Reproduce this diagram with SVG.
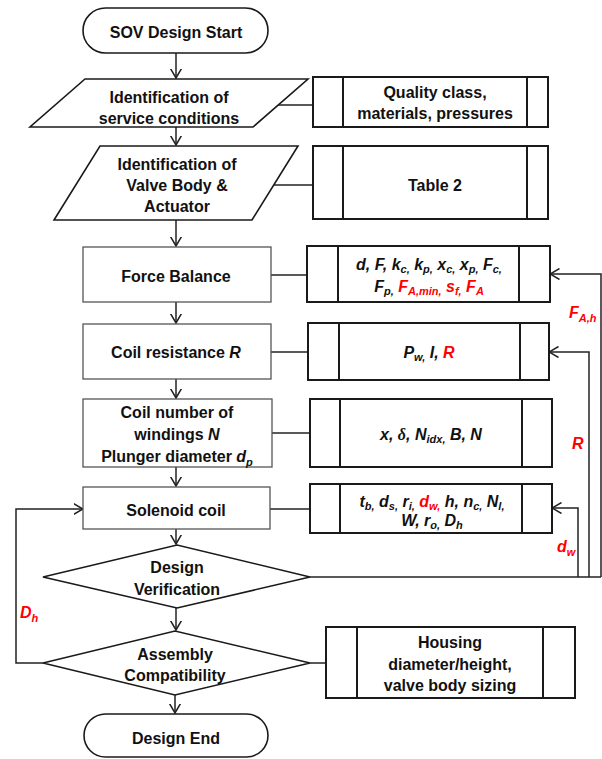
<svg xmlns="http://www.w3.org/2000/svg" width="602" height="759" viewBox="0 0 602 759">
<defs>
<marker id="arr" viewBox="0 0 10 12" refX="9.5" refY="6" markerWidth="10" markerHeight="12" markerUnits="userSpaceOnUse" orient="auto">
<path d="M0,0.5 L9.5,6 L0,11.5" fill="none" stroke="#222" stroke-width="1.5"/>
</marker>
</defs>
<style>
.t{font-family:"Liberation Sans",Arial,sans-serif;font-weight:bold;font-size:16px;fill:#111;text-anchor:middle}
.v{font-family:"Liberation Sans",Arial,sans-serif;font-weight:bold;font-style:italic;font-size:16px;fill:#111;text-anchor:middle}
.lab{font-family:"Liberation Sans",Arial,sans-serif;font-weight:bold;font-style:italic;font-size:16px;fill:#ff0000}
.red{fill:#ff0000}
.s{font-size:11px}
.node{fill:#fff;stroke:#555;stroke-width:1.3}
.shape{fill:#fff;stroke:#1a1a1a;stroke-width:1.6}
.side{fill:#fff;stroke:#1a1a1a;stroke-width:2}
.ln{fill:none;stroke:#222;stroke-width:1.5}
.ar{fill:none;stroke:#222;stroke-width:1.5;marker-end:url(#arr)}
</style>

<g id="connectors">
<line class="ar" x1="176" y1="53" x2="176" y2="78"/>
<line class="ar" x1="176" y1="127" x2="176" y2="145"/>
<line class="ar" x1="176" y1="220" x2="176" y2="246"/>
<line class="ar" x1="176" y1="302" x2="176" y2="323"/>
<line class="ar" x1="176" y1="379" x2="176" y2="398"/>
<line class="ar" x1="176" y1="467" x2="176" y2="486"/>
<line class="ar" x1="176" y1="529" x2="176" y2="544"/>
<line class="ar" x1="176" y1="608" x2="176" y2="630"/>
<line class="ar" x1="175" y1="695" x2="175" y2="713"/>
<line class="ln" x1="278" y1="105" x2="313" y2="105"/>
<line class="ln" x1="274" y1="185" x2="313" y2="185"/>
<line class="ln" x1="271" y1="275" x2="307" y2="275"/>
<line class="ln" x1="271" y1="352" x2="308" y2="352"/>
<line class="ln" x1="272" y1="433" x2="310" y2="433"/>
<line class="ln" x1="270" y1="509" x2="310" y2="509"/>
<line class="ln" x1="310" y1="663" x2="326" y2="663"/>
<polyline class="ln" points="310,577 601,577"/>
<polyline class="ar" points="601,577 601,274 550,274"/>
<polyline class="ar" points="589,577 589,352 549,352"/>
<polyline class="ar" points="578,577 578,508 552,508"/>
<polyline class="ar" points="43,663 16,663 16,509 83,509"/>
<text class="lab" x="569" y="318">F<tspan class="s" dy="4">A,h</tspan></text>
<text class="lab" x="572" y="449">R</text>
<text class="lab" x="557" y="552">d<tspan class="s" dy="4">w</tspan></text>
<text class="lab" x="20" y="618">D<tspan class="s" dy="4">h</tspan></text>
</g>

<g id="start">
<rect class="shape" x="83" y="8" width="185" height="45" rx="22.5"/>
<text class="t" x="176" y="38">SOV Design Start</text>
</g>

<g id="service">
<polygon class="shape" points="85,79 308,79 253,127 30,127"/>
<text class="t" x="169" y="103">Identification of</text>
<text class="t" x="169" y="124">service conditions</text>
</g>

<g id="valvebody">
<polygon class="shape" points="100,146 298,146 252,220 54,220"/>
<text class="t" x="177" y="170">Identification of</text>
<text class="t" x="177" y="191">Valve Body &amp;</text>
<text class="t" x="177" y="212">Actuator</text>
</g>

<g id="force">
<rect class="node" x="83" y="247" width="188" height="55"/>
<text class="t" x="176" y="282">Force Balance</text>
</g>

<g id="resistance">
<rect class="node" x="83" y="324" width="188" height="55"/>
<text class="t" x="176" y="358">Coil resistance <tspan font-style="italic">R</tspan></text>
</g>

<g id="windings">
<rect class="node" x="83" y="399" width="189" height="68"/>
<text class="t" x="177" y="418">Coil number of</text>
<text class="t" x="177" y="440">windings <tspan font-style="italic">N</tspan></text>
<text class="t" x="177" y="462">Plunger diameter <tspan font-style="italic">d</tspan><tspan class="s" font-style="italic" dy="4">p</tspan></text>
</g>

<g id="solenoid">
<rect class="node" x="83" y="487" width="187" height="42"/>
<text class="t" x="176" y="516">Solenoid coil</text>
</g>

<g id="verification">
<polygon class="shape" points="43,577 177,545 310,577 177,608"/>
<text class="t" x="177" y="573">Design</text>
<text class="t" x="177" y="595">Verification</text>
</g>

<g id="assembly">
<polygon class="shape" points="43,663 175,631 310,663 175,695"/>
<text class="t" x="175" y="660">Assembly</text>
<text class="t" x="175" y="681">Compatibility</text>
</g>

<g id="end">
<rect class="shape" x="84" y="714" width="184" height="43" rx="21.5"/>
<text class="t" x="176" y="744">Design End</text>
</g>

<g id="quality">
<rect class="side" x="313" y="77" width="235" height="50"/>
<line class="side" x1="343" y1="77" x2="343" y2="127"/>
<line class="side" x1="527" y1="77" x2="527" y2="127"/>
<text class="t" x="435" y="98">Quality class,</text>
<text class="t" x="435" y="119">materials, pressures</text>
</g>

<g id="table2">
<rect class="side" x="313" y="146" width="235" height="73"/>
<line class="side" x1="343" y1="146" x2="343" y2="219"/>
<line class="side" x1="527" y1="146" x2="527" y2="219"/>
<text class="t" x="435" y="191">Table 2</text>
</g>

<g id="forcevars">
<rect class="side" x="307" y="246" width="243" height="56"/>
<line class="side" x1="338" y1="246" x2="338" y2="302"/>
<line class="side" x1="519" y1="246" x2="519" y2="302"/>
<text class="v" x="429" y="270">d, F, k<tspan class="s" dy="3">c,</tspan><tspan dy="-3"> k</tspan><tspan class="s" dy="3">p,</tspan><tspan dy="-3"> x</tspan><tspan class="s" dy="3">c,</tspan><tspan dy="-3"> x</tspan><tspan class="s" dy="3">p,</tspan><tspan dy="-3"> F</tspan><tspan class="s" dy="3">c,</tspan></text>
<text class="v" x="429" y="292">F<tspan class="s" dy="3">p,</tspan><tspan class="red" dy="-3"> F</tspan><tspan class="s red" dy="3">A,min,</tspan><tspan class="red" dy="-3"> s</tspan><tspan class="s red" dy="3">f,</tspan><tspan class="red" dy="-3"> F</tspan><tspan class="s red" dy="3">A</tspan></text>
</g>

<g id="resvars">
<rect class="side" x="308" y="323" width="241" height="57"/>
<line class="side" x1="339" y1="323" x2="339" y2="380"/>
<line class="side" x1="520" y1="323" x2="520" y2="380"/>
<text class="v" x="429" y="358">P<tspan class="s" dy="3">w,</tspan><tspan dy="-3"> I, </tspan><tspan class="red">R</tspan></text>
</g>

<g id="windvars">
<rect class="side" x="310" y="399" width="242" height="68"/>
<line class="side" x1="340" y1="399" x2="340" y2="467"/>
<line class="side" x1="522" y1="399" x2="522" y2="467"/>
<text class="v" x="431" y="440">x, <tspan font-family="Liberation Serif,serif">δ</tspan>, N<tspan class="s" dy="3">idx,</tspan><tspan dy="-3"> B, N</tspan></text>
</g>

<g id="solvars">
<rect class="side" x="310" y="484" width="242" height="49"/>
<line class="side" x1="340" y1="484" x2="340" y2="533"/>
<line class="side" x1="522" y1="484" x2="522" y2="533"/>
<text class="v" x="432" y="507">t<tspan class="s" dy="3">b,</tspan><tspan dy="-3"> d</tspan><tspan class="s" dy="3">s,</tspan><tspan dy="-3"> r</tspan><tspan class="s" dy="3">i,</tspan><tspan class="red" dy="-3"> d</tspan><tspan class="s red" dy="3">w,</tspan><tspan dy="-3"> h, n</tspan><tspan class="s" dy="3">c,</tspan><tspan dy="-3"> N</tspan><tspan class="s" dy="3">l,</tspan></text>
<text class="v" x="432" y="526">W, r<tspan class="s" dy="3">o,</tspan><tspan dy="-3"> D</tspan><tspan class="s" dy="3">h</tspan></text>
</g>

<g id="housing">
<rect class="side" x="326" y="627" width="249" height="71"/>
<line class="side" x1="357" y1="627" x2="357" y2="698"/>
<line class="side" x1="543" y1="627" x2="543" y2="698"/>
<text class="t" x="450" y="648">Housing</text>
<text class="t" x="450" y="670">diameter/height,</text>
<text class="t" x="450" y="691">valve body sizing</text>
</g>
</svg>
